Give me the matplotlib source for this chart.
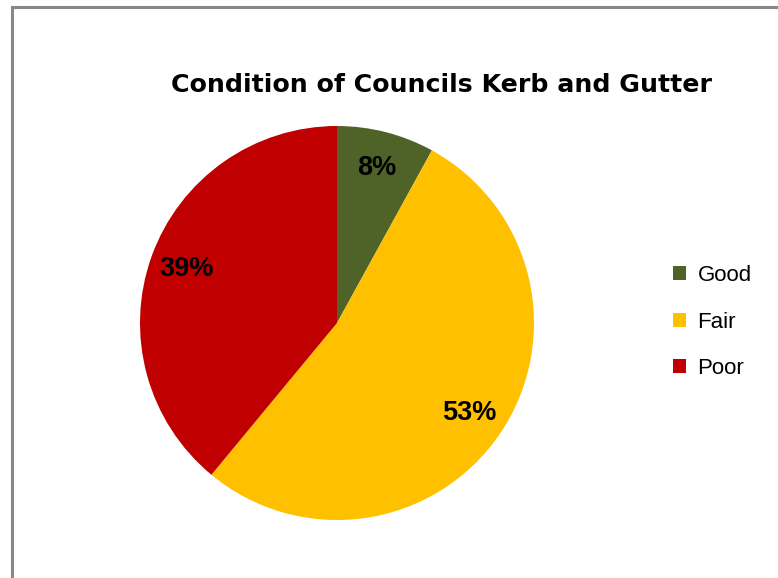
import matplotlib.pyplot as plt
from matplotlib.patches import Rectangle

plt.rcParams["font.family"] = ["Liberation Sans", "DejaVu Sans"]

categories = ["Good", "Fair", "Poor"]
shares = [8, 53, 39]
colors = ["#4F6228", "#FFC000", "#C00000"]

fig = plt.figure(figsize=(7.78, 5.78), dpi=100)
fig.patch.set_facecolor("white")

# grey outer frame, open to the right and bottom edges
fig.patches.append(Rectangle((12 / 778, -0.05), 1.1, 1.05 - 7 / 578,
                             transform=fig.transFigure, fill=False,
                             edgecolor="#888888", linewidth=2.2, clip_on=False))

ax = fig.add_axes([140 / 778, 58 / 578, 394 / 778, 394 / 578])
wedges, _, pcts = ax.pie(
    shares,
    colors=colors,
    startangle=90,
    counterclock=False,
    autopct=lambda p: f"{round(p):d}%",
    pctdistance=0.81,
    radius=1.0,
    wedgeprops=dict(linewidth=0),
    textprops=dict(fontsize=19.5, fontweight="bold", color="black"),
)
ax.set_xlim(-1, 1)
ax.set_ylim(-1, 1)

fig.text(442 / 778, 1 - 85 / 578, "Condition of Councils Kerb and Gutter",
         ha="center", va="center", fontsize=18.2, fontweight="bold",
         family="DejaVu Sans")

fig.legend(wedges, categories, loc="center left",
           bbox_to_anchor=(673 / 778, 1 - 322 / 578),
           frameon=False, fontsize=16, handlelength=0.6, handleheight=0.6,
           handletextpad=0.5, labelspacing=1.15, borderpad=0, borderaxespad=0)

fig.savefig("out.png", dpi=100, facecolor="white")
